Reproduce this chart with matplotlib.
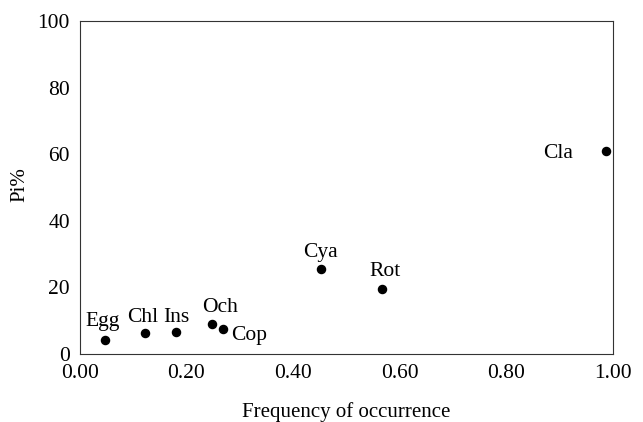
import matplotlib.pyplot as plt

plt.rcParams['font.family'] = ['Liberation Serif', 'DejaVu Serif']

names = ["Egg", "Chl", "Ins", "Och", "Cop", "Cya", "Rot", "Cla"]
freq = [0.048, 0.122, 0.181, 0.248, 0.268, 0.453, 0.567, 0.987]
pi_pct = [4.2, 6.3, 6.7, 8.9, 7.4, 25.4, 19.6, 61.0]

# label offsets in points (dx, dy, ha, va)
offsets = {
    "Egg": (-2, 10, "center", "baseline"),
    "Chl": (-1.4, 8, "center", "baseline"),
    "Ins": (0, 7.2, "center", "baseline"),
    "Och": (5.8, 9, "center", "baseline"),
    "Cop": (5.8, -4.3, "left", "center"),
    "Cya": (-0.7, 9, "center", "baseline"),
    "Rot": (2.4, 9, "center", "baseline"),
    "Cla": (-24, -1.5, "right", "center"),
}

fig = plt.figure(figsize=(6.43, 4.22), dpi=100)
ax = fig.add_axes([0.124, 0.161, 0.829, 0.789])
ax.scatter(freq, pi_pct, s=34, color="black", zorder=3)

for n, x, y in zip(names, freq, pi_pct):
    dx, dy, ha, va = offsets[n]
    ax.annotate(n, (x, y), xytext=(dx, dy), textcoords="offset points",
                ha=ha, va=va, fontsize=15.5)

ax.set_xlim(0, 1.0)
ax.set_ylim(0, 100)
ax.set_xticks([0, 0.2, 0.4, 0.6, 0.8, 1.0])
ax.set_xticklabels(["0.00", "0.20", "0.40", "0.60", "0.80", "1.00"])
ax.set_yticks([0, 20, 40, 60, 80, 100])
ax.tick_params(length=0, labelsize=15.5, pad=7)
ax.set_xlabel("Frequency of occurrence", fontsize=15, labelpad=14)
ax.set_ylabel("Pi%", fontsize=15)
ax.yaxis.set_label_coords(-0.095, 0.51)
for sp in ax.spines.values():
    sp.set_linewidth(0.8)
    sp.set_color("#333333")

fig.savefig("out.png", dpi=100)
